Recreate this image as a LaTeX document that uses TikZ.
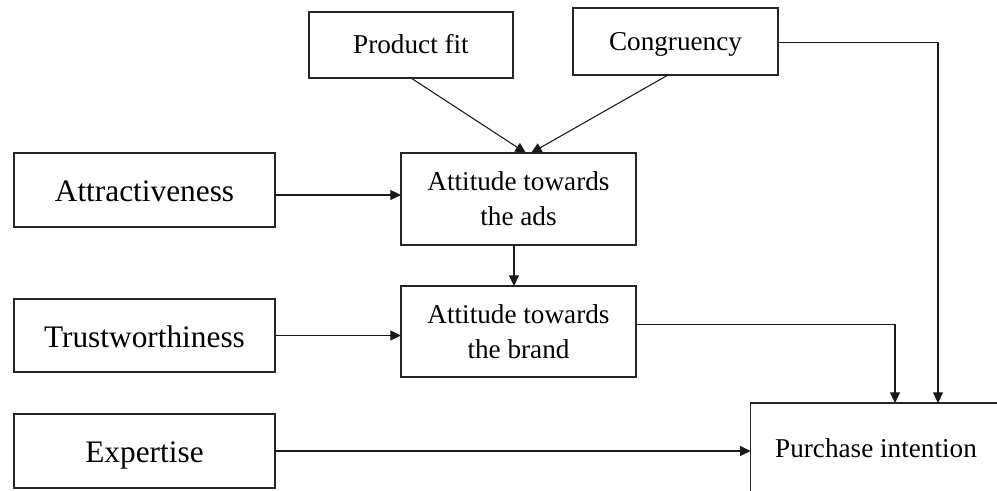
\documentclass[tikz,border=0pt]{standalone}
\usepackage{fontspec}
\setmainfont{Liberation Serif}
\usetikzlibrary{arrows.meta,calc}

\begin{document}
\begin{tikzpicture}[
  x=0.75pt, y=-0.75pt,
  every node/.style={inner sep=0pt, outer sep=0pt},
  bigbox/.style={draw=black!85, line width=0.9pt, minimum width=195.75pt,
    minimum height=55.5pt, text height=18pt, text depth=0pt,
    font=\fontsize{23.5}{28}\selectfont},
  smallbox/.style={draw=black!85, line width=0.9pt, align=center,
    font=\fontsize{20.4}{26.25}\selectfont},
  oneline/.style={text height=13.5pt, text depth=0pt},
  arr/.style={draw=black!90, line width=0.8pt,
    -{Triangle[length=8pt,width=7.5pt]}},
]
\useasboundingbox (0,0) rectangle (997,491);

% upper inputs
\node[smallbox, oneline, minimum width=153pt, minimum height=49.5pt] (fit) at (411,45) {Product fit};
\node[smallbox, oneline, minimum width=153.75pt, minimum height=50.25pt] (cong) at (675.5,41.5) {Congruency};

% attitudes
\node[smallbox, minimum width=176.25pt, minimum height=69pt] (ads) at (518.5,199) {Attitude towards\\the ads};
\node[smallbox, minimum width=176.25pt, minimum height=68.25pt] (brand) at (518.5,331.5) {Attitude towards\\the brand};

% source characteristics
\node[bigbox] (attr) at (144.5,190) {Attractiveness};
\node[bigbox, minimum height=54.75pt] (trust) at (144.5,335.5) {Trustworthiness};
\node[bigbox] (exp) at (144.5,451) {Expertise};

% outcome box, open to the right and bottom page edges
\begin{scope}
\clip (0,0) rectangle (997,491);
\node[smallbox, oneline, minimum width=200pt, minimum height=69pt] (pi) at (884,449)
  {Purchase intention\hspace*{12pt}};
\end{scope}

% connectors
\draw[arr] (fit.south) -- ([xshift=5.6pt]ads.north);
\draw[arr] ([xshift=-5.6pt]cong.south) -- ([xshift=9.4pt]ads.north);
\draw[arr] ([yshift=-3.75pt]attr.east) -- ([yshift=-3.75pt]attr.east -| ads.west);
\draw[arr] ([xshift=-3.4pt]ads.south) -- ([xshift=-3.4pt]brand.north);
\draw[arr] (trust.east) -- (trust.east -| brand.west);
\draw[arr] (exp.east) -- (exp.east -| pi.west);
\draw[arr] ([yshift=4.9pt]brand.east) -| ([xshift=8.25pt]pi.north);
\draw[arr] ([yshift=-1.1pt]cong.east) -| ([xshift=40.5pt]pi.north);
\end{tikzpicture}
\end{document}
